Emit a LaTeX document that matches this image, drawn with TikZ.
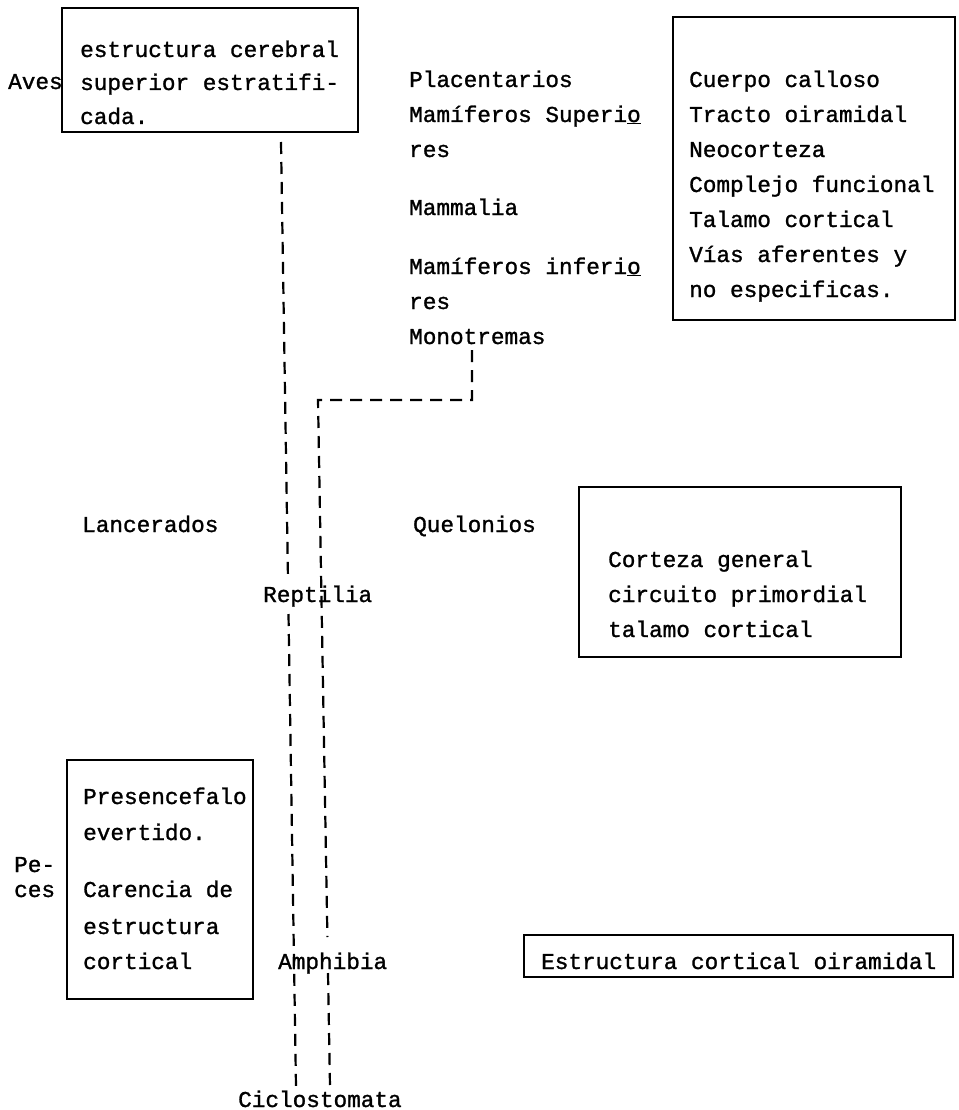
\documentclass[tikz,border=0pt]{standalone}
\usepackage{fontspec}
\newfontfamily\tw[FakeBold=1.2]{Liberation Mono}
\begin{document}
\begin{tikzpicture}[x=1pt,y=-1pt,
  every node/.style={font=\tw\fontsize{22.7}{27}\selectfont, inner sep=0pt},
  lbl/.style={anchor=base west},
  boxnode/.style={draw, line width=2.6pt, rectangle},
  dl/.style={line width=2.2pt, dash pattern=on 12pt off 8pt}]
\useasboundingbox (0,0) rectangle (958,1110);
% boxes
\node[boxnode, minimum width=296pt, minimum height=124pt] (b1) at (210,70) {};
\node[boxnode, minimum width=282pt, minimum height=303pt] (b2) at (814,168.5) {};
\node[boxnode, minimum width=322pt, minimum height=170pt] (b3) at (740,572) {};
\node[boxnode, minimum width=186pt, minimum height=239pt] (b4) at (160,879.5) {};
\node[boxnode, minimum width=429pt, minimum height=42pt] (b5) at (738.5,956) {};
% box texts
\node[lbl] (t11) at (80,57) {estructura cerebral};
\node[lbl] (t12) at (80,90) {superior estratifi-};
\node[lbl] (t13) at (80,124) {cada.};
\node[lbl] (t21) at (689,87) {Cuerpo calloso};
\node[lbl] (t22) at (689,122) {Tracto oiramidal};
\node[lbl] (t23) at (689,157) {Neocorteza};
\node[lbl] (t24) at (689,192) {Complejo funcional};
\node[lbl] (t25) at (689,227) {Talamo cortical};
\node[lbl] (t26) at (689,262) {Vías aferentes y};
\node[lbl] (t27) at (689,297) {no especificas.};
\node[lbl] (t31) at (608,567) {Corteza general};
\node[lbl] (t32) at (608,602) {circuito primordial};
\node[lbl] (t33) at (608,637) {talamo cortical};
\node[lbl] (t41) at (83,804) {Presencefalo};
\node[lbl] (t42) at (83,840) {evertido.};
\node[lbl] (t43) at (83,897) {Carencia de};
\node[lbl] (t44) at (83,934) {estructura};
\node[lbl] (t45) at (83,969) {cortical};
\node[lbl] (t51) at (541,969) {Estructura cortical oiramidal};
% labels
\node[lbl] (aves) at (8,89) {Aves};
\node[lbl] (plac) at (409,87) {Placentarios};
\node[lbl] (msup) at (409,122) {Mamíferos Superi\underline{o}};
\node[lbl] (msup2) at (409,157) {res};
\node[lbl] (mamm) at (409,215) {Mammalia};
\node[lbl] (minf) at (409,274) {Mamíferos inferi\underline{o}};
\node[lbl] (minf2) at (409,309) {res};
\node[lbl] (mono) at (409,344) {Monotremas};
\node[lbl] (lanc) at (82,532) {Lancerados};
\node[lbl] (quel) at (413,532) {Quelonios};
\node[lbl] (rept) at (263,602) {Reptilia};
\node[lbl] (pe) at (14,872) {Pe-};
\node[lbl] (ces) at (14,897) {ces};
\node[lbl] (amph) at (278,969) {Amphibia};
\node[lbl] (cicl) at (238,1107) {Ciclostomata};
% connectors
\coordinate (Ltop) at (281,142);
\coordinate (La) at (288,580);
\coordinate (Lb) at (288.5,614);
\coordinate (Lbot) at (296,1087);
\coordinate (Mt) at (472,350);
\coordinate (Mc) at (472,400);
\coordinate (Rc) at (318,400);
\coordinate (Ra) at (327.4,937);
\coordinate (Rb) at (328,973);
\coordinate (Rbot) at (330,1087);
\draw[dl] (Ltop) -- (La);
\draw[dl] (Lb) -- (Lbot);
\draw[dl] (Mt) -- (Mc) -- (Rc) -- (Ra);
\draw[dl] (Rb) -- (Rbot);
\end{tikzpicture}
\end{document}
